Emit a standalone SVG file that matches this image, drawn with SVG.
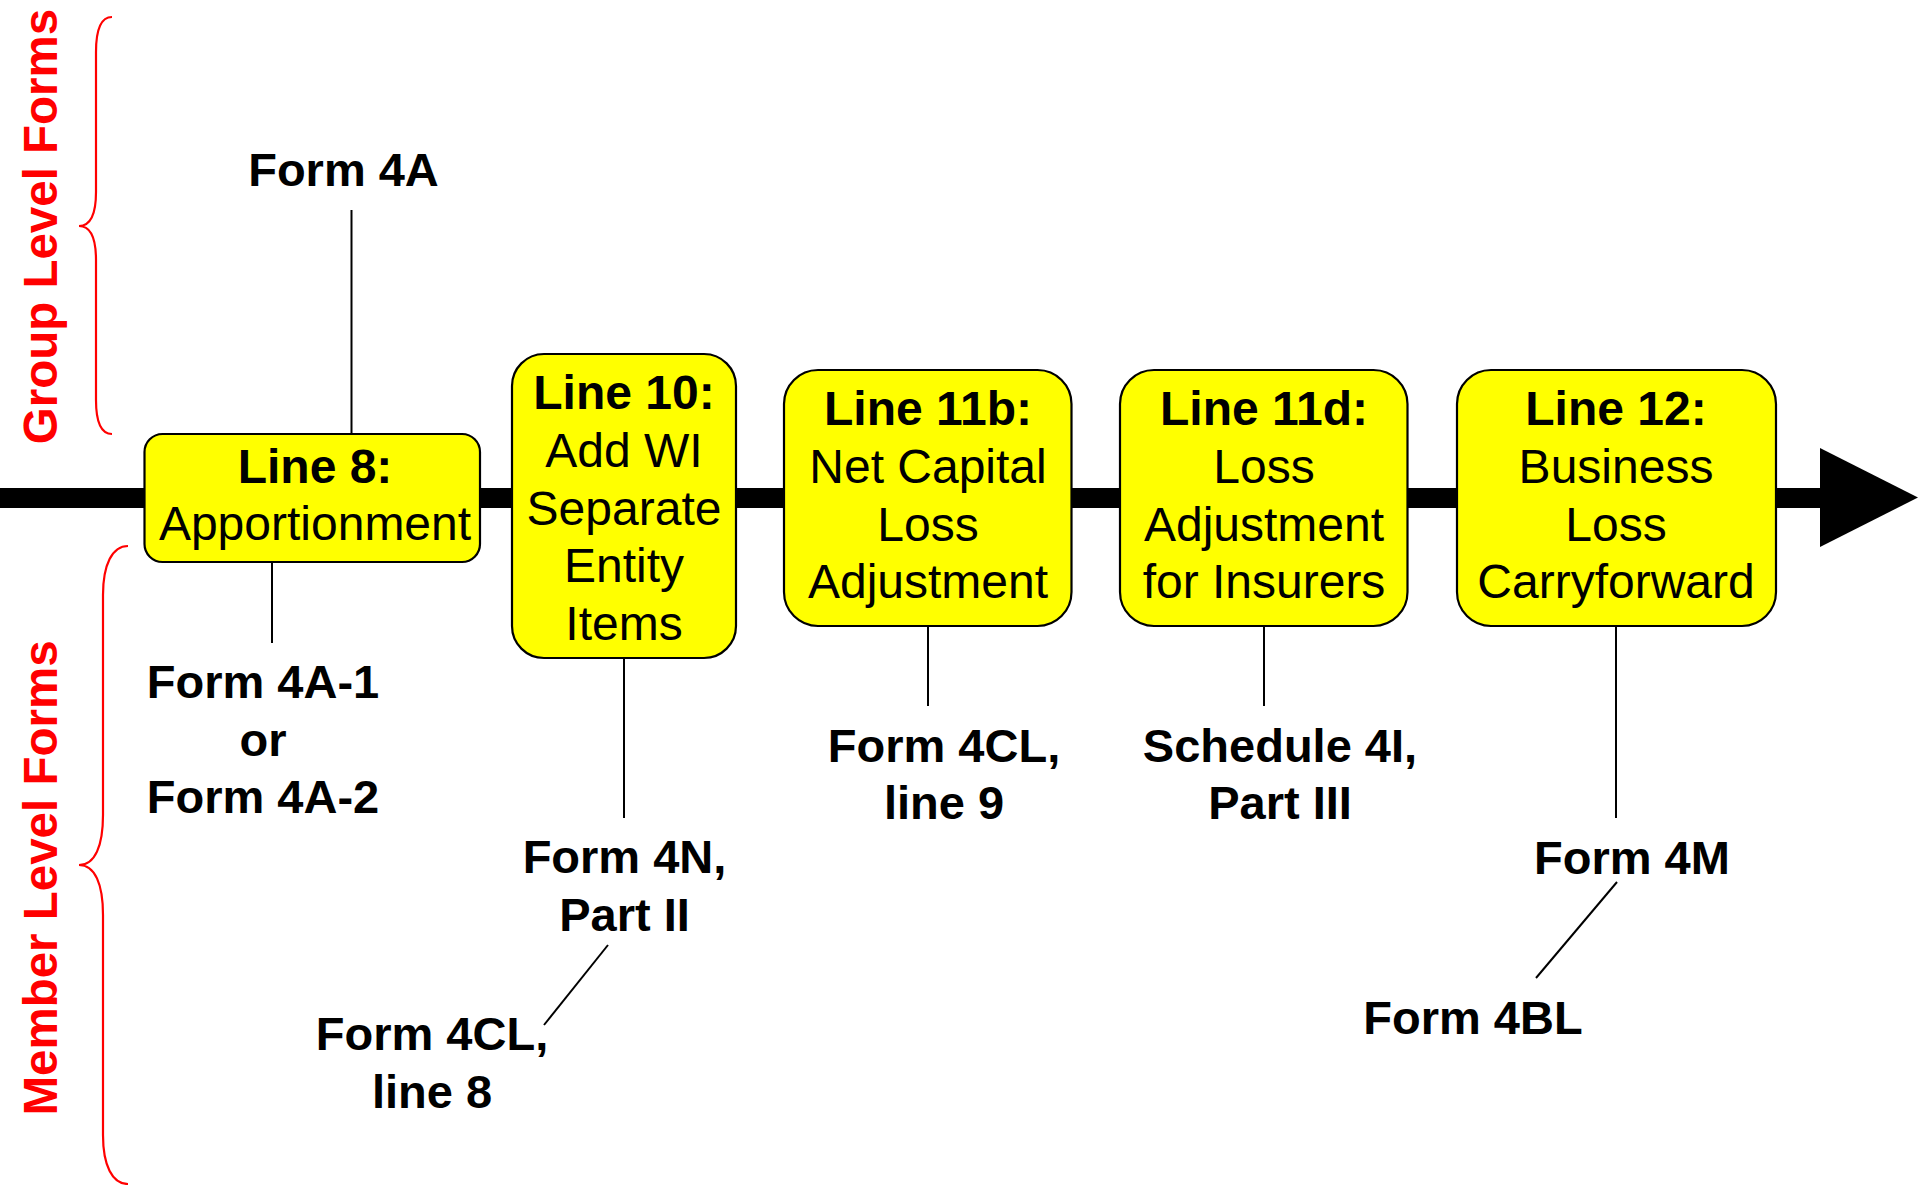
<svg xmlns="http://www.w3.org/2000/svg" width="1920" height="1185" viewBox="0 0 1920 1185">
<style>
  .box { fill: #FFFF00; stroke: #000; stroke-width: 2.2; }
  .bt { font-family: "Liberation Sans", Arial, sans-serif; font-size: 48px; fill: #000; text-anchor: middle; }
  .bt .h { font-weight: bold; }
  .lbl { font-family: "Liberation Sans", Arial, sans-serif; font-size: 47px; font-weight: bold; fill: #000; text-anchor: middle; }
  .side { font-family: "Liberation Sans", Arial, sans-serif; font-size: 47.5px; font-weight: bold; fill: #FF0000; text-anchor: middle; }
  .thin { stroke: #000; stroke-width: 2; fill: none; }
  .brace { stroke: #FF0000; stroke-width: 2.2; fill: none; }
</style>
<rect width="1920" height="1185" fill="#FFFFFF"/>

<g id="timeline">
  <line x1="0" y1="498" x2="1824" y2="498" stroke="#000" stroke-width="20"/>
  <polygon points="1820,448 1918,497.5 1820,547" fill="#000"/>
</g>

<g id="connectors">
  <line class="thin" x1="351.5" y1="210" x2="351.5" y2="434"/>
  <line class="thin" x1="272" y1="562" x2="272" y2="643"/>
  <line class="thin" x1="624" y1="658" x2="624" y2="818"/>
  <line class="thin" x1="608" y1="945" x2="544" y2="1025"/>
  <line class="thin" x1="928" y1="626" x2="928" y2="706"/>
  <line class="thin" x1="1264" y1="626" x2="1264" y2="706"/>
  <line class="thin" x1="1616" y1="626" x2="1616" y2="818"/>
  <line class="thin" x1="1617" y1="882" x2="1536" y2="978"/>
</g>

<g id="brace-group">
  <path class="brace" d="M112,17 C101,17 96,30 96,52 L96,192 C96,214 90,226 79,226 C90,226 96,238 96,260 L96,400 C96,422 101,434 112,434"/>
  <text class="side" transform="translate(57,226.5) rotate(-90)">Group Level Forms</text>
</g>

<g id="brace-member">
  <path class="brace" d="M128,546 C112,546 103,565 103,595 L103,815 C103,846 95,865 79,865 C95,865 103,884 103,915 L103,1135 C103,1165 112,1184 128,1184"/>
  <text class="side" transform="translate(57,878) rotate(-90)">Member Level Forms</text>
</g>

<g id="node-line8">
  <rect class="box" x="144.5" y="434" width="335.5" height="128" rx="18" ry="18"/>
  <text class="bt" x="315" y="483"><tspan class="h">Line 8:</tspan></text>
  <text class="bt" x="315" y="540">Apportionment</text>
</g>

<g id="node-line10">
  <rect class="box" x="512" y="354" width="224" height="304" rx="32" ry="32"/>
  <text class="bt" x="624" y="409"><tspan class="h">Line 10:</tspan></text>
  <text class="bt" x="624" y="467">Add WI</text>
  <text class="bt" x="624" y="524.5">Separate</text>
  <text class="bt" x="624" y="582">Entity</text>
  <text class="bt" x="624" y="640">Items</text>
</g>

<g id="node-line11b">
  <rect class="box" x="784" y="370" width="287.5" height="256" rx="34" ry="34"/>
  <text class="bt" x="928" y="425"><tspan class="h">Line 11b:</tspan></text>
  <text class="bt" x="928" y="483">Net Capital</text>
  <text class="bt" x="928" y="541">Loss</text>
  <text class="bt" x="928" y="598">Adjustment</text>
</g>

<g id="node-line11d">
  <rect class="box" x="1120" y="370" width="287.5" height="256" rx="34" ry="34"/>
  <text class="bt" x="1264" y="425"><tspan class="h">Line 11d:</tspan></text>
  <text class="bt" x="1264" y="483">Loss</text>
  <text class="bt" x="1264" y="541">Adjustment</text>
  <text class="bt" x="1264" y="598">for Insurers</text>
</g>

<g id="node-line12">
  <rect class="box" x="1457" y="370" width="319" height="256" rx="34" ry="34"/>
  <text class="bt" x="1616" y="425"><tspan class="h">Line 12:</tspan></text>
  <text class="bt" x="1616" y="483">Business</text>
  <text class="bt" x="1616" y="541">Loss</text>
  <text class="bt" x="1616" y="598">Carryforward</text>
</g>

<g id="label-form4a">
  <text class="lbl" x="343.5" y="186">Form 4A</text>
</g>

<g id="label-form4a12">
  <text class="lbl" x="263" y="698">Form 4A-1</text>
  <text class="lbl" x="263" y="755.6">or</text>
  <text class="lbl" x="263" y="813.2">Form 4A-2</text>
</g>

<g id="label-form4n">
  <text class="lbl" x="624.5" y="873">Form 4N,</text>
  <text class="lbl" x="624.5" y="931">Part II</text>
</g>

<g id="label-form4cl8">
  <text class="lbl" x="432" y="1050">Form 4CL,</text>
  <text class="lbl" x="432" y="1107.5">line 8</text>
</g>

<g id="label-form4cl9">
  <text class="lbl" x="944" y="762">Form 4CL,</text>
  <text class="lbl" x="944" y="819">line 9</text>
</g>

<g id="label-sched4i">
  <text class="lbl" x="1280" y="762">Schedule 4I,</text>
  <text class="lbl" x="1280" y="819">Part III</text>
</g>

<g id="label-form4m">
  <text class="lbl" x="1632" y="874">Form 4M</text>
</g>

<g id="label-form4bl">
  <text class="lbl" x="1473" y="1034">Form 4BL</text>
</g>
</svg>
